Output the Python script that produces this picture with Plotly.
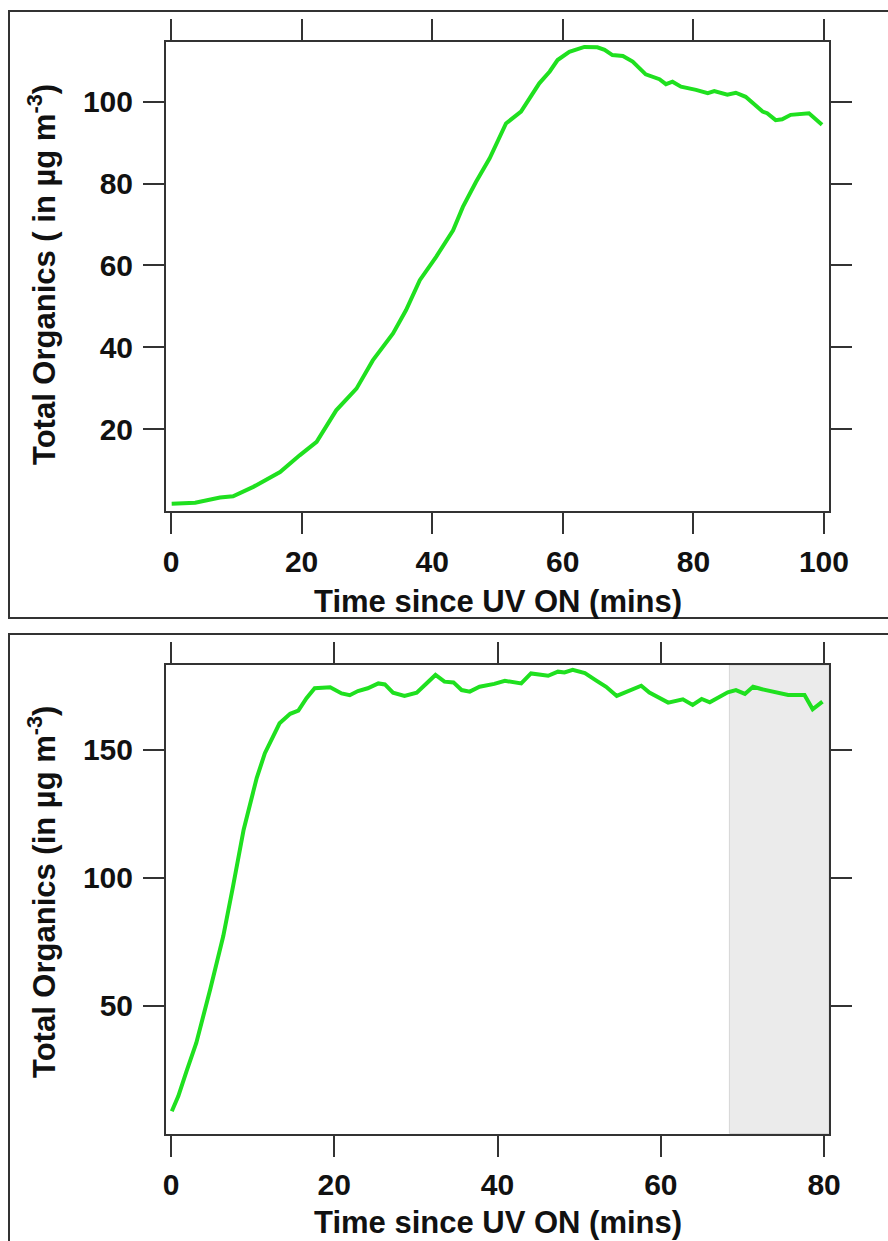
import plotly.graph_objects as go

# ---- Top panel data ----
top_t = [0.1, 3.7, 7.5, 9.5, 12.6, 16.7, 19.7, 22.3, 25.3, 28.4, 30.9, 34.0, 36.0, 38.1,
         40.6, 43.2, 44.7, 46.7, 48.8, 51.3, 53.6, 56.4, 58.0, 59.2, 61.0, 63.3, 65.3,
         66.4, 67.6, 69.2, 70.7, 72.7, 74.8, 75.8, 76.8, 78.1, 80.4, 82.2, 83.2, 85.2,
         86.5, 88.0, 90.6, 91.3, 92.6, 93.6, 94.9, 97.7, 99.7]
top_org = [1.8, 2.0, 3.3, 3.6, 5.9, 9.5, 13.6, 16.9, 24.6, 29.9, 36.8, 43.4, 49.1, 56.4,
           62.1, 68.6, 74.3, 80.4, 86.2, 94.7, 97.6, 104.5, 107.4, 110.2, 112.2, 113.4, 113.3,
           112.7, 111.4, 111.2, 109.8, 106.7, 105.5, 104.3, 104.9, 103.7, 102.9, 102.1, 102.6, 101.7,
           102.2, 101.2, 97.6, 97.2, 95.5, 95.7, 96.8, 97.2, 94.4]

# ---- Bottom panel data ----
bot_t = [0.1, 0.9, 1.9, 3.1, 4.8, 6.4, 7.6, 8.9, 10.5, 11.5, 13.3, 14.6, 15.6, 16.6, 17.6,
         19.5, 20.9, 21.9, 22.9, 24.1, 25.4, 26.2, 27.2, 28.6, 30.1, 31.3, 32.4, 33.5, 34.6,
         35.6, 36.6, 37.8, 39.6, 40.9, 42.9, 44.1, 46.2, 47.4, 48.2, 49.2, 50.7, 52.1, 53.3,
         54.6, 56.2, 57.6, 58.6, 60.9, 62.7, 63.9, 65.0, 66.0, 68.2, 69.2, 70.3, 71.3, 72.3,
         74.1, 75.6, 77.6, 78.6, 79.8]
bot_org = [8.7, 14.6, 24.3, 35.4, 56.3, 77.1, 96.6, 118.8, 139.0, 148.7, 160.4, 164.1, 165.4,
           170.2, 174.1, 174.5, 172.1, 171.4, 173.0, 174.1, 176.0, 175.6, 172.4, 171.1, 172.4,
           176.0, 179.3, 176.7, 176.4, 173.4, 172.8, 174.7, 175.8, 177.0, 176.0, 179.9, 179.0,
           180.6, 180.3, 181.3, 180.0, 177.1, 174.7, 171.1, 173.4, 175.1, 172.4, 168.5, 169.8,
           167.6, 169.9, 168.6, 172.5, 173.4, 171.9, 174.7, 173.8, 172.5, 171.5, 171.5, 165.9, 168.9]

shade_start, shade_end = 68.4, 80.6

top_xticks = [0, 20, 40, 60, 80, 100]
top_yticks = [20, 40, 60, 80, 100]
bot_xticks = [0, 20, 40, 60, 80]
bot_yticks = [50, 100, 150]

W, H = 888, 1241
GREEN = "#1fe01f"
AX = "#333333"
FONT = "Liberation Sans, Arial, sans-serif"

fig = go.Figure()
fig.add_trace(go.Scatter(x=top_t, y=top_org, mode="lines", xaxis="x", yaxis="y",
                         line=dict(color=GREEN, width=4), showlegend=False))
fig.add_trace(go.Scatter(x=bot_t, y=bot_org, mode="lines", xaxis="x2", yaxis="y2",
                         line=dict(color=GREEN, width=4), showlegend=False))

def px_x(p):
    return p / W

def px_y(p):
    return 1 - p / H

common = dict(showline=True, linecolor=AX, linewidth=2, mirror="ticks", ticks="outside",
              ticklen=21, tickwidth=2, tickcolor=AX, showgrid=False, zeroline=False,
              tickfont=dict(family=FONT, size=30, color="#111", weight="bold"),
              automargin=False)

fig.update_layout(
    width=W, height=H, margin=dict(l=0, r=0, t=0, b=0),
    paper_bgcolor="white", plot_bgcolor="white",
    xaxis=dict(domain=[px_x(166), px_x(829)], range=[-0.77, 100.77], anchor="y",
               tickvals=top_xticks, ticklabelstandoff=2, **common),
    yaxis=dict(domain=[px_y(511), px_y(42)], range=[0, 114.6], anchor="x",
               tickvals=top_yticks, ticklabelstandoff=4, **common),
    xaxis2=dict(domain=[px_x(166), px_x(829)], range=[-0.61, 80.6], anchor="y2",
                tickvals=bot_xticks, ticklabelstandoff=2, **common),
    yaxis2=dict(domain=[px_y(1133.5), px_y(665)], range=[0, 183.2], anchor="x2",
                tickvals=bot_yticks, ticklabelstandoff=4, **common),
)

# shaded region
fig.add_shape(type="rect", xref="x2", yref="y2 domain", x0=shade_start, x1=shade_end,
              y0=0, y1=1, fillcolor="#ebebeb", line=dict(color="#d6d6d6", width=1), layer="below")

# panel frames
fig.add_shape(type="rect", xref="paper", yref="paper", x0=px_x(9), x1=px_x(892),
              y0=px_y(618), y1=px_y(11), line=dict(color=AX, width=2), fillcolor="rgba(0,0,0,0)")
fig.add_shape(type="rect", xref="paper", yref="paper", x0=px_x(9), x1=px_x(892),
              y0=px_y(1245), y1=px_y(634), line=dict(color=AX, width=2), fillcolor="rgba(0,0,0,0)")

title_font = dict(family=FONT, size=31, color="#111", weight="bold")
fig.add_annotation(text="Time since UV ON (mins)", xref="paper", yref="paper",
                   x=px_x(498), y=px_y(602), showarrow=False, font=title_font,
                   xanchor="center", yanchor="middle")
fig.add_annotation(text="Time since UV ON (mins)", xref="paper", yref="paper",
                   x=px_x(498), y=px_y(1222), showarrow=False, font=title_font,
                   xanchor="center", yanchor="middle")
fig.add_annotation(text="Total Organics ( in µg m<sup>-3</sup>)", xref="paper", yref="paper",
                   x=px_x(42), y=px_y(275), showarrow=False, font=title_font, textangle=-90,
                   xanchor="center", yanchor="middle")
fig.add_annotation(text="Total Organics (in µg m<sup>-3</sup>)", xref="paper", yref="paper",
                   x=px_x(42), y=px_y(892), showarrow=False, font=title_font, textangle=-90,
                   xanchor="center", yanchor="middle")

fig.write_html("out.html")
